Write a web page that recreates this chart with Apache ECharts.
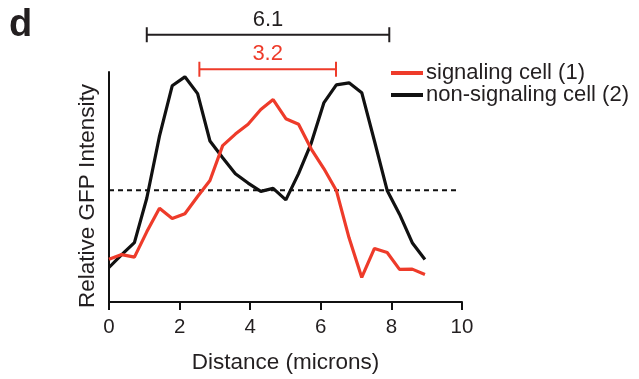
<!DOCTYPE html>
<html>
<head>
<meta charset="utf-8">
<script src="https://cdn.jsdelivr.net/npm/echarts@6/dist/echarts.min.js"></script>
<style>
html,body{margin:0;padding:0;background:#fff;}
#c{width:639px;height:379px;}
</style>
</head>
<body>
<div id="c"></div>
<script>
// Data (distance in microns, relative GFP intensity in arbitrary units 0-100)
const distance = [0, 0.36, 0.72, 1.07, 1.43, 1.79, 2.15, 2.51, 2.86, 3.22, 3.58, 3.94, 4.30, 4.65, 5.01, 5.37, 5.73, 6.09, 6.44, 6.80, 7.16, 7.52, 7.88, 8.23, 8.59, 8.95];
const signaling = [18.6, 20.6, 19.5, 30.5, 40.8, 36.3, 38.4, 45.9, 52.8, 68.0, 73.0, 77.3, 83.7, 88.0, 79.7, 77.3, 66.5, 57.9, 48.5, 27.9, 10.7, 23.3, 21.5, 14.2, 14.3, 12.0];
const nonSignaling = [15.0, 20.6, 25.8, 45.1, 72.1, 94.0, 97.9, 90.6, 70.0, 62.7, 55.8, 51.7, 48.1, 49.4, 44.4, 55.8, 69.1, 86.7, 94.4, 95.3, 91.0, 70.0, 48.5, 38.2, 25.8, 18.5];
const xTicks = [0, 2, 4, 6, 8, 10];
const threshold = 48.6;
const thresholdRange = [0, 9.9];
const seriesNames = ['signaling cell (1)', 'non-signaling cell (2)'];
// annotation brackets: [x1, x2, y, label]
const bracketBlack = [1.07, 7.94, 116.2, '6.1'];
const bracketRed = [2.56, 6.43, 101.2, '3.2'];

const RED = '#EE3B2A';
const BLACK = '#111111';
const TXT = '#231F20';
const FONT = '"Liberation Sans", Arial, Helvetica, sans-serif';

const chart = echarts.init(document.getElementById('c'), null, {renderer: 'canvas'});

function pairs(xs, ys) { return xs.map((x, i) => [x, ys[i]]); }

const option = {
  animation: false,
  backgroundColor: '#fff',
  textStyle: {fontFamily: FONT, color: TXT},
  grid: {left: 109, right: 177, top: 72, bottom: 74, containLabel: false},
  legend: {
    orient: 'vertical',
    left: 386, top: 57,
    itemWidth: 32, itemHeight: 4, itemGap: 0,
    icon: 'rect',
    textStyle: {fontFamily: FONT, fontSize: 22, color: TXT, padding: [0, 0, 0, -2]},
    data: seriesNames
  },
  xAxis: {
    type: 'value', min: 0, max: 10, interval: 2,
    name: 'Distance (microns)', nameLocation: 'middle', nameGap: 49,
    nameTextStyle: {fontFamily: FONT, fontSize: 22.5, color: TXT},
    axisLine: {show: true, lineStyle: {color: BLACK, width: 2}},
    axisTick: {show: true, length: 8, lineStyle: {color: BLACK, width: 2}},
    axisLabel: {show: true, margin: 15, fontFamily: FONT, fontSize: 20.5, color: TXT,
      formatter: v => xTicks.indexOf(v) >= 0 ? String(v) : ''},
    splitLine: {show: false}
  },
  yAxis: {
    type: 'value', min: 0, max: 100,
    name: 'Relative GFP Intensity', nameLocation: 'middle', nameGap: 10,
    nameTextStyle: {fontFamily: FONT, fontSize: 22.5, color: TXT, padding: [0, 18, 0, 0]},
    axisLine: {show: true, lineStyle: {color: BLACK, width: 2}},
    axisTick: {show: false},
    axisLabel: {show: false},
    splitLine: {show: false}
  },
  series: [
    {
      name: 'threshold', type: 'line', symbol: 'none', silent: true,
      data: thresholdRange.map(x => [x, threshold]),
      lineStyle: {color: BLACK, width: 2, type: [5, 4]}, z: 1
    },
    {
      name: seriesNames[1], type: 'line', symbol: 'none',
      data: pairs(distance, nonSignaling),
      itemStyle: {color: BLACK},
      lineStyle: {color: BLACK, width: 3.2}, z: 2
    },
    {
      name: seriesNames[0], type: 'line', symbol: 'none',
      data: pairs(distance, signaling),
      itemStyle: {color: RED},
      lineStyle: {color: RED, width: 3.2}, z: 3
    }
  ]
};
chart.setOption(option);

function bracketGraphics(b, color) {
  const p1 = chart.convertToPixel({gridIndex: 0}, [b[0], b[2]]);
  const p2 = chart.convertToPixel({gridIndex: 0}, [b[1], b[2]]);
  const h = 7.5;
  const mid = (p1[0] + p2[0]) / 2;
  return [
    {type: 'line', shape: {x1: p1[0], y1: p1[1], x2: p2[0], y2: p2[1]}, style: {stroke: color, lineWidth: 2}},
    {type: 'line', shape: {x1: p1[0], y1: p1[1] - h, x2: p1[0], y2: p1[1] + h}, style: {stroke: color, lineWidth: 2}},
    {type: 'line', shape: {x1: p2[0], y1: p2[1] - h, x2: p2[0], y2: p2[1] + h}, style: {stroke: color, lineWidth: 2}},
    {type: 'text', x: mid, y: p1[1] - 15, style: {text: b[3], fill: color, font: '22px ' + FONT, textAlign: 'center', textVerticalAlign: 'middle'}}
  ];
}

chart.setOption({
  graphic: [
    {type: 'text', left: 9, top: 7, style: {text: 'd', fill: TXT, font: 'bold 38px ' + FONT}}
  ].concat(bracketGraphics(bracketBlack, TXT)).concat(bracketGraphics(bracketRed, RED))
});
</script>
</body>
</html>
